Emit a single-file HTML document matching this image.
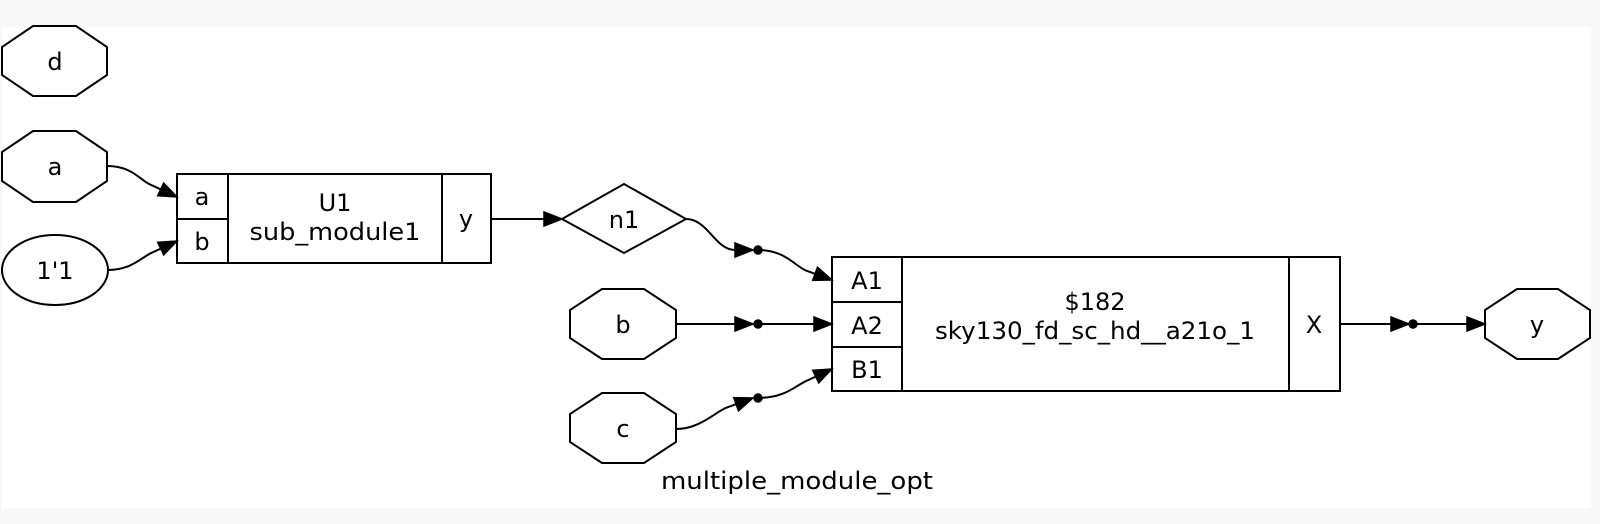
<!DOCTYPE html>
<html><head><meta charset="utf-8"><style>
html,body{margin:0;padding:0;background:#f8f8f8;}
svg{display:block;}
text{font-family:"DejaVu Sans","Liberation Sans",sans-serif;font-size:24px;fill:#000;}
</style></head><body>
<svg width="1600" height="524" viewBox="0 0 1600 524">
<rect x="0" y="0" width="1600" height="524" fill="#f8f8f8"/>
<rect x="2" y="27" width="1589" height="481" fill="#ffffff"/>
<g fill="none" stroke="#000" stroke-width="2">
<polygon points="33,26 76,26 107,47 107,75 76,96 33,96 2,75 2,47" fill="#fff"/>
<polygon points="33,131 76,131 107,152 107,181 76,202 33,202 2,181 2,152" fill="#fff"/>
<ellipse cx="55" cy="270" rx="53" ry="35" fill="#fff"/>
<rect x="177" y="174" width="314" height="89" fill="#fff"/>
<line x1="228" y1="174" x2="228" y2="263"/>
<line x1="442" y1="174" x2="442" y2="263"/>
<line x1="177" y1="219" x2="228" y2="219"/>
<polygon points="562,219 624,184 686,219 624,253" fill="#fff"/>
<polygon points="602,289 644,289 676,310 676,338 644,359 602,359 570,338 570,310" fill="#fff"/>
<polygon points="602,393 644,393 676,414 676,442 644,463 602,463 570,442 570,414" fill="#fff"/>
<rect x="832" y="257" width="508" height="134" fill="#fff"/>
<line x1="902" y1="257" x2="902" y2="391"/>
<line x1="1289" y1="257" x2="1289" y2="391"/>
<line x1="832" y1="302" x2="902" y2="302"/>
<line x1="832" y1="347" x2="902" y2="347"/>
<polygon points="1517,289 1558,289 1590,310 1590,338 1558,359 1517,359 1485,338 1485,310" fill="#fff"/>
<path d="M107,166 C132,166 140,180 149.8,184.3 L160.7,189.4"/>
<path d="M108,270 C130,270 140,259 149.8,253.7 L160.7,248.6"/>
<path d="M491,219 L544,219"/>
<path d="M686,219 C708,219 715,250 735,250"/>
<path d="M758,250 C785,250 795,266 805.7,270.4 L815.1,273.8"/>
<path d="M676,324 L735,324"/>
<path d="M758,324 L814,324"/>
<path d="M676,429 C700,429 715,412 726.7,407.6 L736.1,404.2"/>
<path d="M758,398 C785,398 795,386 806.6,380.8 L815.7,376.6"/>
<path d="M1340,324 L1391,324"/>
<path d="M1413,324 L1467,324"/>
</g>
<g fill="#000" stroke="#000" stroke-width="1.5">
<polygon points="177,197 157.7,195.7 163.7,183.1"/>
<polygon points="177,241 163.7,254.9 157.7,242.3"/>
<polygon points="562,219 544,212 544,226"/>
<polygon points="753,250 735,243 735,257"/>
<polygon points="832,280 812.7,280.4 817.5,267.2"/>
<polygon points="753,324 735,317 735,331"/>
<polygon points="832,324 814,317 814,331"/>
<polygon points="753,398 738.5,410.8 733.7,397.6"/>
<polygon points="832,369 818.7,382.9 812.7,370.3"/>
<polygon points="1409,324 1391,317 1391,331"/>
<polygon points="1485,324 1467,317 1467,331"/>
<circle cx="758" cy="250" r="4"/>
<circle cx="758" cy="324" r="4"/>
<circle cx="758" cy="398" r="4"/>
<circle cx="1413" cy="324" r="4"/>
</g>
<g text-anchor="middle">
<text x="55" y="70">d</text>
<text x="55" y="175">a</text>
<text x="55" y="279">1'1</text>
<text x="202" y="205">a</text>
<text x="202" y="250">b</text>
<text x="335" y="211">U1</text>
<text x="335" y="240" textLength="171" lengthAdjust="spacingAndGlyphs">sub_module1</text>
<text x="466" y="227">y</text>
<text x="624" y="228">n1</text>
<text x="623" y="333">b</text>
<text x="623" y="437">c</text>
<text x="867" y="289">A1</text>
<text x="867" y="334">A2</text>
<text x="867" y="378">B1</text>
<text x="1095" y="310">$182</text>
<text x="1095" y="339" textLength="320" lengthAdjust="spacingAndGlyphs">sky130_fd_sc_hd__a21o_1</text>
<text x="1314" y="333">X</text>
<text x="1537" y="333">y</text>
<text x="797" y="489" textLength="272" lengthAdjust="spacingAndGlyphs">multiple_module_opt</text>
</g>
</svg>
</body></html>
